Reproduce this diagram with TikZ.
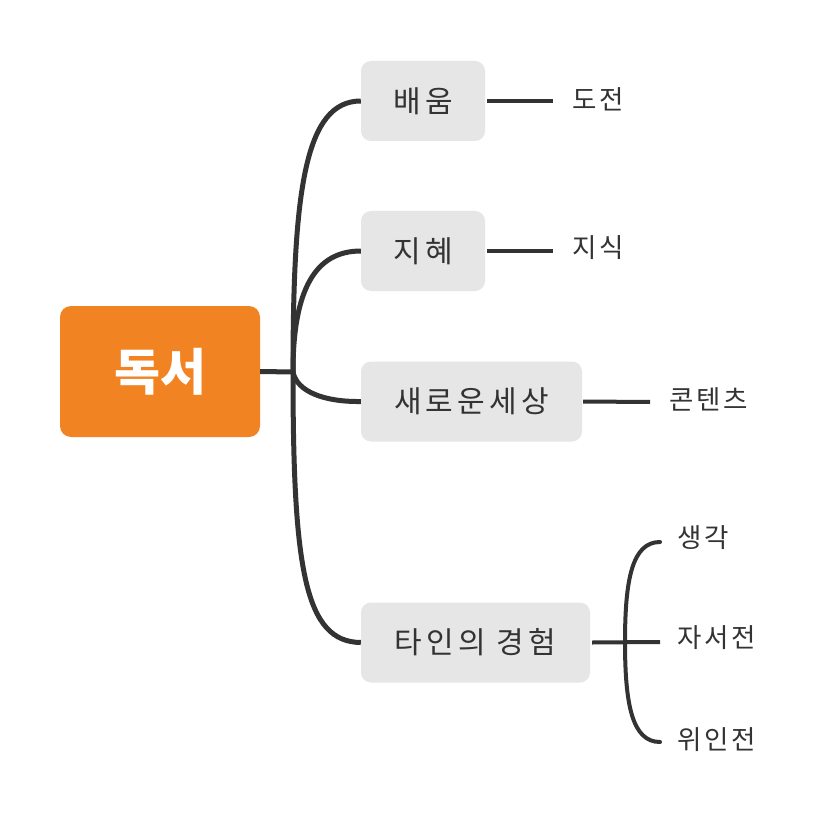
\documentclass[tikz,border=0pt]{standalone}
\usepackage{fontspec}
\setmainfont{Noto Sans CJK KR}
\definecolor{rootorange}{HTML}{F28322}
\definecolor{boxgray}{HTML}{E6E6E6}
\definecolor{ink}{HTML}{333333}
\begin{document}
\begin{tikzpicture}[x=1pt,y=-1pt,
  rootbox/.style={fill=rootorange,rounded corners=11pt,minimum width=200pt,minimum height=131pt,inner sep=0pt,text=white,font=\fontsize{50}{52}\selectfont\bfseries},
  topicbox/.style={fill=boxgray,rounded corners=10pt,minimum height=80pt,inner sep=0pt,text=ink,font=\fontsize{30}{32}\selectfont\addfontfeature{LetterSpace=14}},
  leaftext/.style={inner sep=0pt,text=ink,font=\fontsize{26.5}{30}\selectfont\addfontfeature{LetterSpace=10}},
  trunk/.style={draw=ink,line width=5pt},
  twig/.style={draw=ink,line width=4pt,line cap=round}]
\useasboundingbox (0,0) rectangle (840,834);
\fill[white] (0,0) rectangle (840,834);
% nodes
\node[rootbox] (root) at (160,371.5) {독서};
\node[topicbox,minimum width=124pt] (b1) at (423,101) {배움};
\node[topicbox,minimum width=124pt] (b2) at (423,251) {지혜};
\node[topicbox,minimum width=221pt] (b3) at (471.5,401.5) {새로운세상};
\node[topicbox,minimum width=229pt] (b4) at (475.5,642.5) {타인의 경험};
\node[leaftext,anchor=west] (l1) at (572,99) {도전};
\node[leaftext,anchor=west] (l2) at (572,248) {지식};
\node[leaftext,anchor=west] (l3) at (669,399) {콘텐츠};
\node[leaftext,anchor=west] (l4) at (677,538) {생각};
\node[leaftext,anchor=west] (l5) at (677,638) {자서전};
\node[leaftext,anchor=west] (l6) at (677,740) {위인전};
% junctions
\coordinate (J) at (293,372);
\coordinate (e1) at (553,101);
\coordinate (e2) at (553,251);
\coordinate (e3) at (650,402);
\coordinate (K) at (625,642);
\coordinate (e4) at (660,542);
\coordinate (e5) at (660,642);
\coordinate (e6) at (660,742);
% trunk
\draw[trunk] (root.east) -- (J);
\draw[trunk] (J) .. controls (293,190) and (305,101) .. (b1.west);
\draw[trunk] (J) .. controls (293,290) and (315,251) .. (b2.west);
\draw[trunk] (J) .. controls (297,392) and (325,402) .. (b3.west);
\draw[trunk] (J) .. controls (293,570) and (305,642) .. (b4.west);
% leaves
\draw[twig,line cap=butt] ([xshift=2pt]b1.east) -- (e1);
\draw[twig,line cap=butt] ([xshift=2pt]b2.east) -- (e2);
\draw[twig,line cap=butt] ([xshift=1pt]b3.east) -- (e3);
\draw[twig,line cap=butt] ([xshift=2pt]b4.east) -- (e5);
\draw[twig] (e4) .. controls (632,542) and (625,580) .. (K) .. controls (625,704) and (632,742) .. (e6);
\end{tikzpicture}
\end{document}
